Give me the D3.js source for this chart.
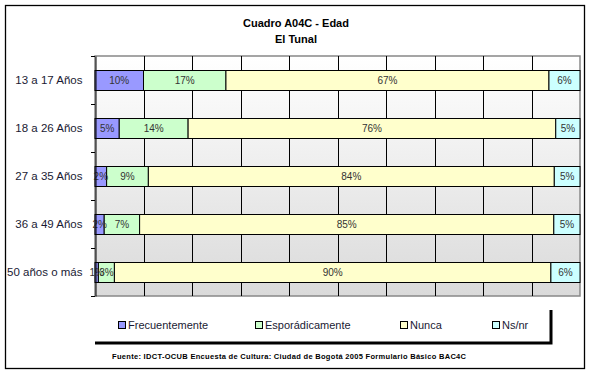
<!DOCTYPE html>
<html>
<head>
<meta charset="utf-8">
<script src="https://cdn.jsdelivr.net/npm/d3@7"></script>
<style>
  body { margin: 0; background: #fff; }
  text { font-family: Arial, "Liberation Sans", sans-serif; }
</style>
</head>
<body>
<script>
width = 591
height = 375

categories = ["13 a 17 Años", "18 a 26 Años", "27 a 35 Años", "36 a 49 Años", "50 años o más"]
series = ["Frecuentemente", "Esporádicamente", "Nunca", "Ns/nr"]
colors = ["#9999FF", "#CCFFCC", "#FFFFCC", "#CCFFFF"]
frecuentemente = [10.0, 5.0, 2.4, 1.9, 0.7]
esporadicamente = [17.0, 14.2, 8.6, 7.3, 3.3]
nunca = [66.6, 75.8, 83.7, 85.4, 90.0]
nsnr = [6.4, 5.0, 5.3, 5.4, 6.0]
xTicks = [0, 10, 20, 30, 40, 50, 60, 70, 80, 90, 100]

plot = {left: 95, right: 580, top: 56, bottom: 296}

svg = d3.select("body")
    .append("svg")
    .attr("width", width)
    .attr("height", height)

// outer frame
svg.append("rect")
    .attr("x", 5.5).attr("y", 5.5)
    .attr("width", 579).attr("height", 363)
    .attr("fill", "#fff")
    .attr("stroke", "#000")
    .attr("stroke-width", 1.3)

// title
svg.append("text")
    .attr("x", 296).attr("y", 27)
    .attr("text-anchor", "middle")
    .attr("font-size", "11px").attr("font-weight", "bold")
    .text("Cuadro A04C - Edad")
svg.append("text")
    .attr("x", 296).attr("y", 43)
    .attr("text-anchor", "middle")
    .attr("font-size", "11px").attr("font-weight", "bold")
    .text("El Tunal")

x = d3.scaleLinear().domain([0, 100]).range([plot.left, plot.right])
y = d3.scaleBand().domain(categories).range([plot.top, plot.bottom])
    .paddingInner(28/48).paddingOuter(14/48)

// plot background gradient
grad = svg.append("defs").append("linearGradient")
    .attr("id", "bg").attr("x1", 0).attr("y1", 0).attr("x2", 0).attr("y2", 1)
grad.append("stop").attr("offset", "0%").attr("stop-color", "#ffffff")
grad.append("stop").attr("offset", "100%").attr("stop-color", "#dadada")

svg.append("rect")
    .attr("x", plot.left).attr("y", plot.top)
    .attr("width", plot.right - plot.left).attr("height", plot.bottom - plot.top)
    .attr("fill", "url(#bg)")
    .attr("stroke", "#888")
    .attr("stroke-width", 1.5)

// vertical gridlines
svg.selectAll("line.grid")
    .data(xTicks.slice(1, -1))
    .enter()
    .append("line")
    .attr("class", "grid")
    .attr("x1", function(d) { return Math.round(x(d)) + 0.5; })
    .attr("x2", function(d) { return Math.round(x(d)) + 0.5; })
    .attr("y1", plot.top)
    .attr("y2", plot.bottom)
    .attr("stroke", "#000")
    .attr("stroke-width", 1)

// stacked rows
rows = categories.map(function(c, i) {
    return [frecuentemente[i], esporadicamente[i], nunca[i], nsnr[i]]
})
segs = []
rows.forEach(function(vals, i) {
    acc = 0
    vals.forEach(function(v, j) {
        segs.push({cat: categories[i], s: j, x0: acc, x1: acc + v, v: v})
        acc += v
    })
})

svg.selectAll("rect.seg")
    .data(segs)
    .enter()
    .append("rect")
    .attr("class", "seg")
    .attr("x", function(d) { return x(d.x0); })
    .attr("width", function(d) { return x(d.x1) - x(d.x0); })
    .attr("y", function(d) { return y(d.cat) + 0.5; })
    .attr("height", y.bandwidth())
    .attr("fill", function(d) { return colors[d.s]; })
    .attr("stroke", "#000")
    .attr("stroke-width", 1)

svg.selectAll("text.val")
    .data(segs)
    .enter()
    .append("text")
    .attr("class", "val")
    .attr("x", function(d) { return (x(d.x0) + x(d.x1)) / 2; })
    .attr("y", function(d) { return y(d.cat) + y.bandwidth() / 2 + 4; })
    .attr("text-anchor", "middle")
    .attr("font-size", "10px")
    .attr("fill", "#333")
    .text(function(d) { return Math.round(d.v) + "%"; })

// category axis
yAxis = d3.axisLeft(y).tickSize(0).tickPadding(13)
svg.append("g")
    .attr("transform", "translate(" + (plot.left + 0.5) + ",0)")
    .call(yAxis)
    .call(function(g) { g.select(".domain").attr("stroke", "#000"); })
    .selectAll("text")
    .attr("font-size", "11.5px")
    .attr("font-family", "Arial, 'Liberation Sans', sans-serif")
    .attr("fill", "#1a1a33")

bounds = d3.range(categories.length + 1).map(function(i) { return plot.top + i * y.step(); })
svg.selectAll("line.ytick")
    .data(bounds)
    .enter()
    .append("line")
    .attr("class", "ytick")
    .attr("x1", plot.left - 4).attr("x2", plot.left)
    .attr("y1", function(d) { return d + 0.5; })
    .attr("y2", function(d) { return d + 0.5; })
    .attr("stroke", "#000")

// legend
svg.append("path")
    .attr("d", "M95,343 H551 V310")
    .attr("fill", "none")
    .attr("stroke", "#000")
    .attr("stroke-width", 3)

legendX = [118, 255, 400, 492]
leg = svg.selectAll("g.leg")
    .data(series)
    .enter()
    .append("g")
    .attr("class", "leg")
    .attr("transform", function(d, i) { return "translate(" + legendX[i] + ",321)"; })
leg.append("rect")
    .attr("x", 0.5).attr("y", 0.5)
    .attr("width", 7).attr("height", 7)
    .attr("fill", function(d, i) { return colors[i]; })
    .attr("stroke", "#000")
leg.append("text")
    .attr("x", 10).attr("y", 8)
    .attr("font-size", "11px")
    .attr("fill", "#1a1a33")
    .text(function(d) { return d; })

// source
svg.append("text")
    .attr("x", 112).attr("y", 359)
    .attr("font-size", "7.5px")
    .attr("font-weight", "bold")
    .attr("textLength", 354)
    .attr("lengthAdjust", "spacing")
    .text("Fuente: IDCT-OCUB Encuesta de Cultura: Ciudad de Bogotá 2005 Formulario Básico BAC4C")
</script>
</body>
</html>
